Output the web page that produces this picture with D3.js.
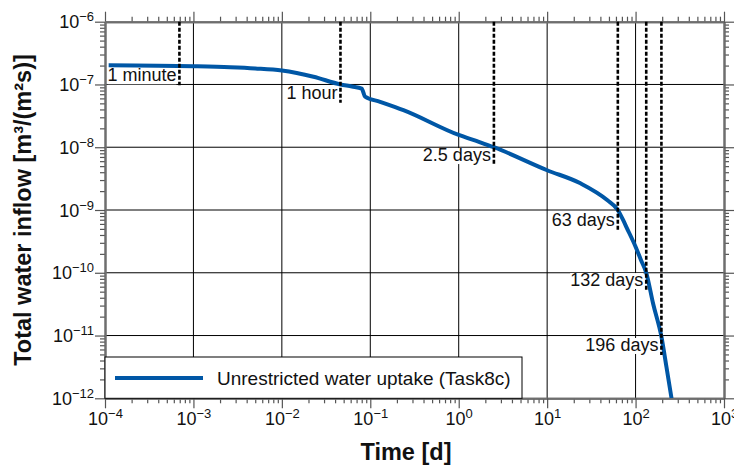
<!DOCTYPE html>
<html>
<head>
<meta charset="utf-8">
<script src="https://cdn.jsdelivr.net/npm/d3@7"></script>
<style>
  body { margin: 0; background: #fff; overflow: hidden; }
  svg { display: block; font-family: "Liberation Sans", Arial, sans-serif; }
</style>
</head>
<body>
<div id="chart"></div>
<script>

// curve: time [d] vs total inflow [m3/(m2 s)]
var timeDays = [1.1e-4, 1e-3, 2.6e-3, 5e-3, 1e-2, 2.28e-2, 0.046, 0.062, 0.080, 0.0873, 0.129, 0.237,
                1, 1.75, 2.5, 10, 23.8, 47.7, 63, 72, 79, 100, 115, 132, 158, 196, 224, 255];
var inflow = [2.02e-7, 1.95e-7, 1.88e-7, 1.8e-7, 1.67e-7, 1.33e-7, 1.0e-7, 9.3e-8, 8.6e-8, 6.4e-8, 5.3e-8, 3.9e-8,
              1.57e-8, 1.2e-8, 1.0e-8, 4.3e-9, 2.66e-9, 1.44e-9, 1.0e-9, 7.0e-10, 5.3e-10, 2.6e-10, 1.6e-10, 1.0e-10, 3.2e-11, 9.6e-12, 3.1e-12, 1.0e-12];

// vertical time markers
var markerDays = [1 / 1440, 0.046, 2.5, 63, 132, 196];
var markerLow = [9.7e-8, 5.1e-8, 5.2e-9, 4.8e-10, 5.3e-11, 4.9e-12];
var markerLabels = ["1 minute", "1 hour", "2.5 days", "63 days", "132 days", "196 days"];

var xDecades = [-4, -3, -2, -1, 0, 1, 2, 3];
var yDecades = [-12, -11, -10, -9, -8, -7, -6];

var seriesName = "Unrestricted water uptake (Task8c)";
var xTitle = "Time [d]";
var yTitle = "Total water inflow [m³/(m²s)]";


InflowVis = function (_parentElement) {
  this.parentElement = _parentElement;
  this.displayData = [];

  this.margin = { top: 21.7, right: 10, bottom: 66.7, left: 105 };
  this.width = 619;
  this.height = 376.6;

  this.initVis();
}

InflowVis.prototype.initVis = function () {
  var that = this;

  this.root = this.parentElement.append("svg")
      .attr("width", 734)
      .attr("height", 465);

  this.svg = this.root.append("g")
      .attr("transform", "translate(" + this.margin.left + "," + this.margin.top + ")");

  this.x = d3.scaleLog().domain([1e-4, 1e3]).range([0, this.width]);
  this.y = d3.scaleLog().domain([1e-12, 1e-6]).range([this.height, 0]);

  this.xMajor = xDecades.map(function (e) { return Math.pow(10, e); });
  this.yMajor = yDecades.map(function (e) { return Math.pow(10, e); });
  this.xMinor = minors(xDecades);
  this.yMinor = minors(yDecades);

  this.wrangleData();
  this.updateVis();
}

function minors(decades) {
  var out = [];
  decades.slice(0, -1).forEach(function (e) {
    for (var k = 2; k <= 9; k++) out.push(k * Math.pow(10, e));
  });
  return out;
}

InflowVis.prototype.wrangleData = function () {
  this.displayData = timeDays.map(function (t, i) {
    return { t: t, q: inflow[i] };
  });
}

InflowVis.prototype.updateVis = function () {
  var that = this;
  var w = this.width, h = this.height;

  // grid
  var grid = this.svg.append("g").attr("class", "grid")
      .attr("stroke", "#000").attr("stroke-width", 1);
  grid.selectAll("line.gx").data(this.xMajor.slice(1, -1)).enter().append("line")
      .attr("x1", function (d) { return that.x(d); })
      .attr("x2", function (d) { return that.x(d); })
      .attr("y1", 0).attr("y2", h);
  grid.selectAll("line.gy").data(this.yMajor.slice(1, -1)).enter().append("line")
      .attr("y1", function (d) { return that.y(d); })
      .attr("y2", function (d) { return that.y(d); })
      .attr("x1", 0).attr("x2", w);

  // axes: major + minor ticks on all four sides
  var axes = [
    { gen: d3.axisBottom, scale: this.x, tr: "translate(0," + h + ")", major: this.xMajor, minor: this.xMinor, label: true },
    { gen: d3.axisTop, scale: this.x, tr: "translate(0,0)", major: this.xMajor, minor: this.xMinor },
    { gen: d3.axisLeft, scale: this.y, tr: "translate(0,0)", major: this.yMajor, minor: this.yMinor, label: true },
    { gen: d3.axisRight, scale: this.y, tr: "translate(" + w + ",0)", major: this.yMajor, minor: this.yMinor }
  ];

  axes.forEach(function (a) {
    var gMin = that.svg.append("g").attr("transform", a.tr)
        .call(a.gen(a.scale).tickValues(a.minor).tickSize(5).tickSizeOuter(0).tickFormat(""));
    var gMaj = that.svg.append("g").attr("transform", a.tr)
        .call(a.gen(a.scale).tickValues(a.major).tickSize(10).tickSizeOuter(0).tickFormat(""));
    [gMin, gMaj].forEach(function (g) {
      g.selectAll(".tick line").attr("stroke", "#555").attr("stroke-width", 1.2);
      g.select(".domain").attr("stroke", "#6e6e6e").attr("stroke-width", 2);
    });
    if (a.label) {
      var isX = a.gen === d3.axisBottom;
      gMaj.selectAll(".tick text").each(function (d) {
        var t = d3.select(this).text(null)
            .attr("fill", "#111")
            .attr("font-size", 18)
            .attr("text-anchor", isX ? "middle" : "end")
            .attr("x", isX ? 0 : -11)
            .attr("y", isX ? 26.5 : 6)
            .attr("dy", null);
        var e = Math.round(Math.log10(d));
        t.append("tspan").text("10");
        t.append("tspan").attr("font-size", 13).attr("dy", -7)
            .text((e < 0 ? "\u2212" : "") + Math.abs(e));
      });
    }
  });

  // legend box
  var leg = this.svg.append("g").attr("transform", "translate(0," + (h - 41.3) + ")");
  leg.append("rect").attr("x", 0).attr("y", 0).attr("width", 417).attr("height", 41.3)
      .attr("fill", "#fff").attr("stroke", "#000").attr("stroke-width", 1);
  leg.append("line").attr("x1", 10).attr("x2", 98).attr("y1", 21).attr("y2", 21)
      .attr("stroke", "#0057a6").attr("stroke-width", 4);
  leg.append("text").attr("x", 112).attr("y", 27.5).attr("font-size", 19).attr("fill", "#111")
      .text(seriesName);

  // marker labels with white background
  var marks = this.svg.append("g");
  markerDays.forEach(function (d, i) {
    var xp = that.x(d), yl = that.y(markerLow[i]);
    var txt = marks.append("text")
        .attr("x", xp - 3).attr("y", yl - 4)
        .attr("text-anchor", "end").attr("font-size", 18).attr("fill", "#111")
        .text(markerLabels[i]);
    var bb = txt.node().getBBox();
    marks.insert("rect", "text")
        .attr("x", bb.x).attr("y", bb.y + 3).attr("width", bb.width).attr("height", bb.height - 4)
        .attr("fill", "#fff");
  });

  // curve
  var clip = this.svg.append("clipPath").attr("id", "plotclip");
  clip.append("rect").attr("width", w).attr("height", h);

  var line = d3.line()
      .x(function (d) { return that.x(d.t); })
      .y(function (d) { return that.y(d.q); })
      .curve(d3.curveMonotoneX);

  this.svg.append("path")
      .datum(this.displayData)
      .attr("clip-path", "url(#plotclip)")
      .attr("d", line)
      .attr("fill", "none")
      .attr("stroke", "#0057a6")
      .attr("stroke-width", 4)
      .attr("stroke-linejoin", "round");

  // dashed markers
  this.svg.append("g").selectAll("line").data(markerDays).enter().append("line")
      .attr("x1", function (d) { return that.x(d); })
      .attr("x2", function (d) { return that.x(d); })
      .attr("y1", 0)
      .attr("y2", function (d, i) { return that.y(markerLow[i]); })
      .attr("stroke", "#000")
      .attr("stroke-width", 2.6)
      .attr("stroke-dasharray", "4,2");

  // titles
  this.root.append("text")
      .attr("x", 406).attr("y", 460)
      .attr("text-anchor", "middle").attr("font-size", 23.5).attr("font-weight", "bold").attr("fill", "#111")
      .text(xTitle);
  this.root.append("text")
      .attr("transform", "translate(31,210) rotate(-90)")
      .attr("text-anchor", "middle").attr("font-size", 23.5).attr("font-weight", "bold").attr("fill", "#111")
      .text(yTitle);
}

var vis = new InflowVis(d3.select("#chart"));

</script>
</body>
</html>
